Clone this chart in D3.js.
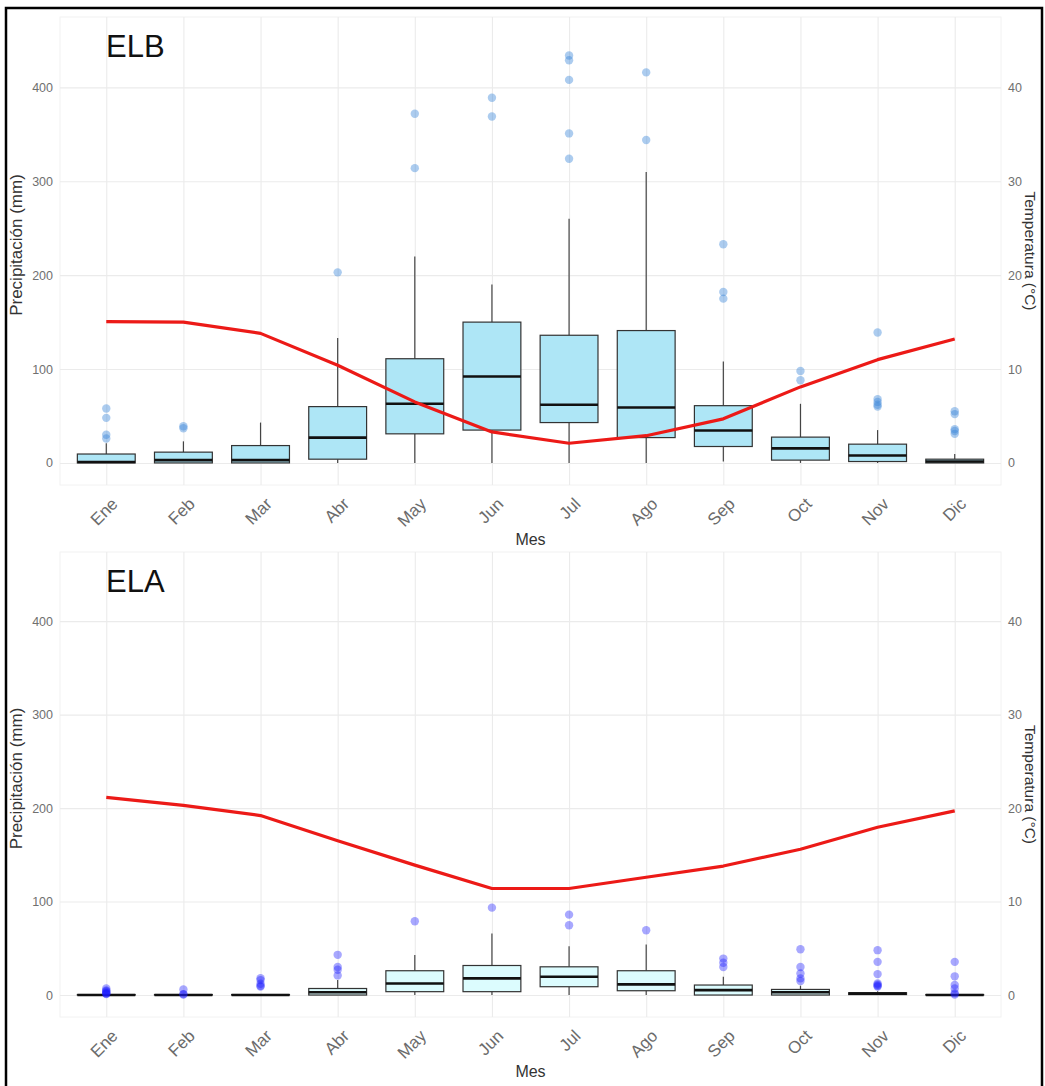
<!DOCTYPE html>
<html><head><meta charset="utf-8">
<script src="https://cdn.jsdelivr.net/npm/d3@7"></script>
<style>body{margin:0;background:#fff;}svg{display:block;font-family:"Liberation Sans",Arial,sans-serif;}</style>
</head><body><svg id="c" width="1045" height="1086"></svg>
<script>
const months = ["Ene","Feb","Mar","Abr","May","Jun","Jul","Ago","Sep","Oct","Nov","Dic"];
const precipTicks = [0,100,200,300,400];
const tempTicks = [0,10,20,30,40];

// ELB (top panel)
const elbLo  = [0, 0, 0, 0, 0, 0, 0, 0, 1.5, 0, 0, 0];
const elbQ1  = [0, 0, 0, 4, 31, 35, 43, 27, 17.5, 3, 1.5, 0];
const elbMed = [1, 3, 3, 27, 63, 92, 62, 59, 34.5, 15.5, 8, 1.5];
const elbQ3  = [9.5, 11.5, 18.5, 60, 111, 150, 136, 141, 61, 27.5, 20, 4];
const elbHi  = [21, 23, 43, 133, 220, 190, 260, 310, 108, 63, 35, 9.5];
const elbOut = [[58,48,30,26],[39,37],[],[203],[372,314],[389,369],[434,429,408,351,324],[416,344],[233,182,175],[98,88],[139,68,65,62,60],[55,52,36,34,31]];
const elbTemp = [15.05, 15.0, 13.8, 10.4, 6.5, 3.3, 2.1, 2.9, 4.7, 8.1, 11.0, 13.2];

// ELA (bottom panel)
const elaLo  = [0, 0, 0, 0, 0, 0, 0, 0, 0, 0, 0, 0];
const elaQ1  = [0, 0, 0, 0, 3.6, 3.6, 8.9, 4.6, 0, 0, 0.5, 0];
const elaMed = [0, 0, 0, 3, 12.4, 17.8, 19.6, 11.4, 5.3, 3, 1.5, 0];
const elaQ3  = [0.5, 0.5, 0.5, 7, 26, 31.6, 30.2, 26, 10.7, 6, 2.5, 0.5];
const elaHi  = [0.5, 0.5, 0.5, 16, 42.7, 65.8, 52.3, 54, 19.6, 10, 4, 1];
const elaOut = [[7,5,4,3,2,1.5,1],[6,1,0.5],[18,16,12,10,9],[43,30,27,21],[79],[93.5],[86,74.7],[69.3],[39,34.5,30],[49,30,23,17.8,15],[48,35.5,22.4,12.4,11,10,9],[35.5,20,10.7,7,2,0.5]];
const elaTemp = [21.15, 20.3, 19.2, 16.5, 13.9, 11.4, 11.4, 12.6, 13.8, 15.6, 17.95, 19.7];

const svg = d3.select("#c");
svg.append("rect").attr("x",0).attr("y",0).attr("width",1045).attr("height",1086).attr("fill","#fff");

const x = d3.scalePoint().domain(months).range([60, 1001]).padding(0.6);
const bw = x.step() * 0.75;
const FONT = "Liberation Sans, Arial, sans-serif";

function panel(cfg) {
  const y = d3.scaleLinear().domain([-23.5, cfg.top]).range([cfg.y1, cfg.y0]);
  const yT = d3.scaleLinear().domain([-2.35, cfg.top / 10]).range([cfg.y1, cfg.y0]);
  const g = svg.append("g");
  g.append("rect").attr("x",60).attr("y",cfg.y0).attr("width",941).attr("height",cfg.y1-cfg.y0)
    .attr("fill","none").attr("stroke","#f2f2f2").attr("stroke-width",1);
  g.append("g").attr("transform","translate(60,0)")
    .call(d3.axisLeft(y).tickValues(precipTicks).tickSize(-941).tickFormat(""))
    .call(s=>{s.select(".domain").remove(); s.selectAll("line").attr("stroke","#ebebeb").attr("stroke-width",1.1);});
  g.append("g").attr("transform",`translate(0,${cfg.y1})`)
    .call(d3.axisBottom(x).tickSize(-(cfg.y1-cfg.y0)).tickFormat(""))
    .call(s=>{s.select(".domain").remove(); s.selectAll("line").attr("stroke","#ebebeb").attr("stroke-width",1.1);});
  g.append("g").attr("transform","translate(56,0)")
    .call(d3.axisLeft(y).tickValues(precipTicks).tickSize(0).tickPadding(3))
    .call(s=>{s.select(".domain").remove(); s.selectAll("text").attr("fill","#707070").attr("font-size",12.5).attr("font-family",FONT);});
  g.append("g").attr("transform","translate(1005,0)")
    .call(d3.axisRight(yT).tickValues(tempTicks).tickSize(0).tickPadding(3))
    .call(s=>{s.select(".domain").remove(); s.selectAll("text").attr("fill","#707070").attr("font-size",12.5).attr("font-family",FONT);});
  g.append("g").attr("transform",`translate(0,${cfg.y1})`)
    .call(d3.axisBottom(x).tickSize(0).tickPadding(0))
    .call(s=>{s.select(".domain").remove();
      s.selectAll("text").attr("fill","#6b6b6b").attr("font-size",17).attr("font-family",FONT)
       .attr("text-anchor","end").attr("dy",null).attr("y",null)
       .attr("transform","translate(12,20) rotate(-45)");});
  g.append("text").attr("x",530.5).attr("y",cfg.y1+60).attr("text-anchor","middle").attr("font-size",16).attr("fill","#333").text("Mes");
  g.append("text").attr("transform",`translate(22,${(cfg.y0+cfg.y1)/2 - 6}) rotate(-90)`).attr("text-anchor","middle").attr("font-size",17).attr("fill","#333").text("Precipitación (mm)");
  g.append("text").attr("transform",`translate(1025,${(cfg.y0+cfg.y1)/2}) rotate(90)`).attr("text-anchor","middle").attr("font-size",15.5).attr("fill","#333").text("Temperatura (°C)");
  g.append("text").attr("x",106).attr("y",cfg.y0+40).attr("font-size",31).attr("fill","#111").text(cfg.name);

  const idx = d3.range(months.length);
  const bg = g.append("g");
  idx.forEach(i=>{
    const cx = x(months[i]);
    bg.append("line").attr("x1",cx).attr("x2",cx).attr("y1",y(cfg.q3[i])).attr("y2",y(cfg.hi[i])).attr("stroke","#444").attr("stroke-width",1.2);
    bg.append("line").attr("x1",cx).attr("x2",cx).attr("y1",y(cfg.q1[i])).attr("y2",y(cfg.lo[i])).attr("stroke","#444").attr("stroke-width",1.2);
    bg.append("rect").attr("x",cx-bw/2).attr("width",bw).attr("y",y(cfg.q3[i])).attr("height",Math.max(0,y(cfg.q1[i])-y(cfg.q3[i])))
      .attr("fill",cfg.fill).attr("stroke","#333").attr("stroke-width",1.2);
    bg.append("line").attr("x1",cx-bw/2).attr("x2",cx+bw/2).attr("y1",y(cfg.med[i])).attr("y2",y(cfg.med[i])).attr("stroke","#111").attr("stroke-width",2.6);
    cfg.out[i].forEach(v=>{
      bg.append("circle").attr("cx",cx).attr("cy",y(v)).attr("r",4.2).attr("fill",cfg.pt).attr("fill-opacity",cfg.ptOp);
    });
  });
  g.append("path").datum(cfg.temp)
    .attr("d", d3.line().x((d,i)=>x(months[i])).y(d=>yT(d)))
    .attr("fill","none").attr("stroke","#ec1a17").attr("stroke-width",3.2).attr("stroke-linejoin","round");
}

panel({name:"ELB", y0:17, y1:485, top:475, lo:elbLo, q1:elbQ1, med:elbMed, q3:elbQ3, hi:elbHi, out:elbOut, temp:elbTemp, fill:"#aee6f6", pt:"#3a86d8", ptOp:0.42});
panel({name:"ELA", y0:552, y1:1017, top:474, lo:elaLo, q1:elaQ1, med:elaMed, q3:elaQ3, hi:elaHi, out:elaOut, temp:elaTemp, fill:"#dcfcfe", pt:"#1a1aff", ptOp:0.38});

svg.append("rect").attr("x",6).attr("y",8).attr("width",1036).attr("height",1082).attr("fill","none").attr("stroke","#000").attr("stroke-width",2.5);
</script></body></html>
